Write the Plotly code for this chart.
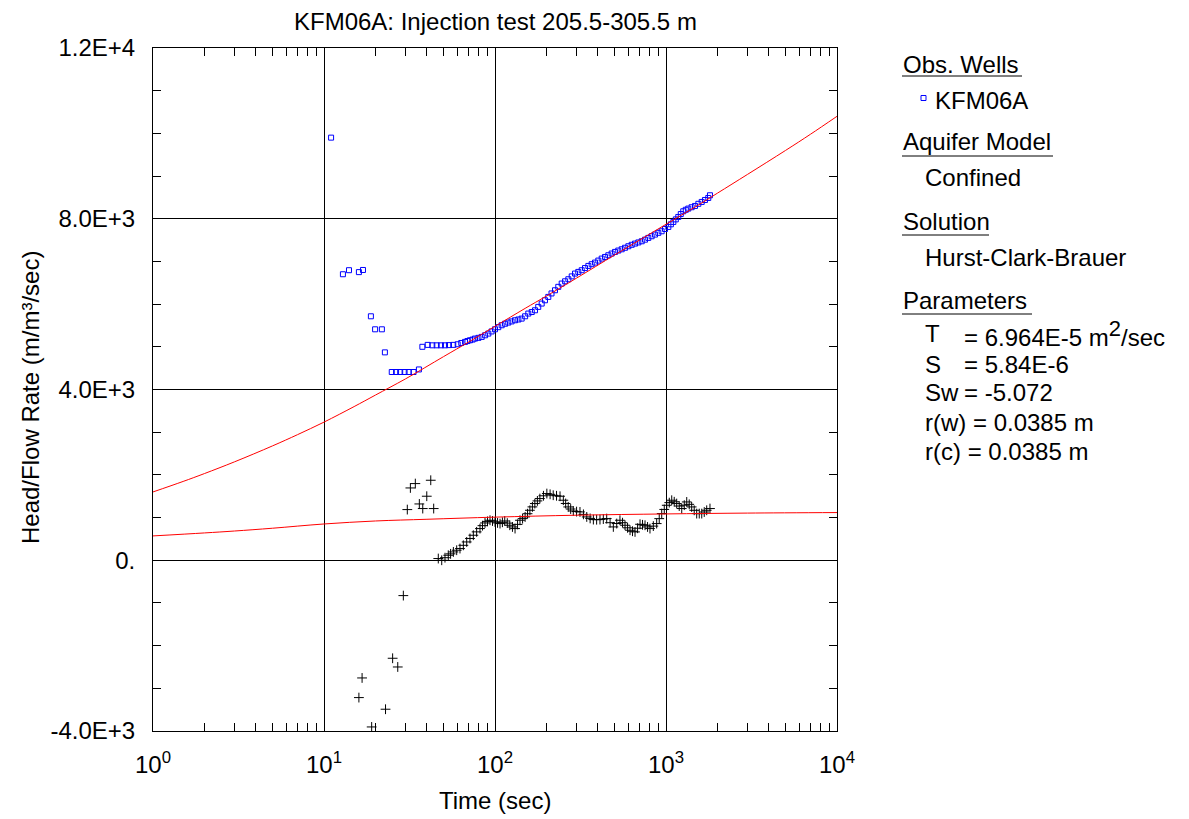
import plotly.graph_objects as go

# Observed head / flow rate (blue squares)
head_t = [11.0, 12.9, 14.0, 16.0, 16.9, 18.8, 19.9, 21.8, 22.7, 24.9, 26.4, 27.9, 29.6, 31.3, 33.4, 35.9,
          37.6, 40.4, 43.0, 45.6, 48.3, 51.0, 53.8, 57.0, 60.5, 63.5, 66.8, 69, 71.4, 74, 76.4, 80, 83.6,
          87.5, 91.4, 95.5, 100, 104.5, 109.4, 114.5, 119.6, 125, 130.9, 137, 143.2, 150, 156.6, 164,
          171.4, 179, 187.5, 196, 205, 214, 224.3, 234.5, 245.5, 257, 268.5, 281, 293.8, 307, 321.4,
          336, 351.5, 367.5, 384.6, 402, 420.7, 440, 460, 481, 503.5, 526, 550.7, 576, 602.5, 630, 659,
          689, 721, 754, 788, 824, 862, 902, 943, 987, 1032, 1068, 1104, 1141, 1180, 1220, 1262, 1305,
          1350, 1412, 1478, 1546, 1617, 1690, 1767, 1808]
head_v = [9900, 6700, 6795, 6750, 6800, 5715, 5410, 5410, 4870, 4410, 4410, 4410, 4410, 4410, 4410, 4470,
          5000, 5045, 5035, 5035, 5035, 5035, 5040, 5045, 5060, 5090, 5115, 5135, 5153, 5170, 5193, 5210, 5232,
          5270, 5310, 5360, 5411, 5460, 5505, 5540, 5568, 5595, 5622, 5640, 5661, 5715, 5779, 5815,
          5856, 5935, 6013, 6090, 6169, 6250, 6325, 6405, 6482, 6535, 6583, 6650, 6716, 6755, 6794,
          6845, 6895, 6935, 6973, 7020, 7067, 7105, 7145, 7185, 7223, 7255, 7285, 7320, 7356, 7390, 7418,
          7445, 7473, 7510, 7551, 7590, 7629, 7670, 7707, 7760, 7808, 7870, 7925, 7985, 8042, 8110, 8175, 8210,
          8238, 8270, 8300, 8350, 8394, 8440, 8487, 8550]

# Derivative (black crosses)
deriv_t = [16.0, 16.7, 19.0, 22.9, 25.2, 27.0, 29.1, 30.7, 32.0, 34.2, 36.1, 37.8, 39.9, 42.1, 43.8,
           46.6, 48.8, 51, 53.3, 55, 57.1, 59.7, 62.4, 65.3, 68.3, 71.4, 74.7, 78.1, 81.7, 84.5, 87.4, 90.4,
           93.5, 96.7, 100, 103.5, 107, 110.5, 114, 118, 122, 126.5, 131, 135.5, 140, 145, 150, 155, 160,
           165.5, 171, 177, 183, 192, 201, 210, 219, 229, 240, 251, 259, 268, 277, 287, 300, 314, 329, 344,
           360, 376, 393, 411, 430, 450, 471, 492, 515, 538, 557, 576, 596, 616, 637, 659, 682, 705, 729,
           754, 780, 806, 843, 882, 913, 944, 977, 1010, 1045, 1080, 1117, 1155, 1195, 1236, 1279, 1322,
           1367, 1413, 1462, 1512, 1565, 1618, 1674, 1730, 1808]
deriv_v = [-3217, -2757, -3905, -3490, -2296, -2500, -828, 1187, 1694, 1796, 1319, 1211, 1500, 1874, 1211,
           40, 0, 60, 117, 150, 195, 235, 274, 350, 429, 510, 586, 665, 742, 810, 874, 910,
           937, 920, 898, 875, 859, 890, 920, 870, 820, 780, 742, 840, 937, 975, 1015, 1090, 1171,
           1250, 1328, 1390, 1445, 1510, 1562, 1545, 1523, 1510, 1499, 1406, 1330, 1249, 1200, 1155, 1140, 1132, 1075, 1015,
           980, 953, 950, 953, 965, 976, 880, 781, 860, 937, 880, 820, 760, 703, 680, 664, 750, 843, 830,
           820, 780, 742, 800, 859, 975, 1093, 1190, 1288, 1350, 1406, 1370, 1328, 1270, 1211, 1290, 1366,
           1310, 1249, 1170, 1093, 1093, 1093, 1130, 1171, 1211]

# Fitted type curve (red)
fit_t = [1, 1.5, 2, 3, 5, 7, 10, 15, 20, 30, 50, 70, 100, 150, 200, 300, 500, 700, 1000, 1500, 2000,
         3000, 5000, 7000, 10000]
fit_v = [1600, 1846, 2031, 2306, 2679, 2942, 3236, 3600, 3870, 4250, 4770, 5110, 5480, 5900, 6190, 6610,
         7150, 7500, 7870, 8290, 8600, 9040, 9600, 9980, 10400]

# Fitted derivative curve (red)
fitd_t = [1, 2, 3, 5, 10, 20, 40, 100, 300, 1000, 3000, 10000]
fitd_v = [570, 640, 685, 750, 850, 920, 960, 1010, 1055, 1085, 1105, 1117]

x_ticks = [1, 10, 100, 1000, 10000]
x_ticktext = ["10<sup>0</sup>", "10<sup>1</sup>", "10<sup>2</sup>", "10<sup>3</sup>", "10<sup>4</sup>"]
y_ticks = [-4000, 0, 4000, 8000, 12000]
y_ticktext = ["-4.0E+3", "0.", "4.0E+3", "8.0E+3", "1.2E+4"]

FONT = "Liberation Sans, Arial, sans-serif"
FS = 24

fig = go.Figure()
fig.add_trace(go.Scatter(x=head_t, y=head_v, mode="markers",
                         marker=dict(symbol="square-open", size=5, color="#0000FF",
                                     line=dict(width=1, color="#0000FF"))))
fig.add_trace(go.Scatter(x=deriv_t, y=deriv_v, mode="markers",
                         marker=dict(symbol="cross-thin", size=7, color="black",
                                     line=dict(width=1, color="black"))))
fig.add_trace(go.Scatter(x=fit_t, y=fit_v, mode="lines", line=dict(color="#FF0000", width=1, shape="spline")))
fig.add_trace(go.Scatter(x=fitd_t, y=fitd_v, mode="lines", line=dict(color="#FF0000", width=1, shape="spline")))

# page body has an 8px margin, so the figure is drawn 8px smaller and offset
OFF = 8
W, H = 1189 - OFF, 819 - OFF
L, R, T, B = 153, 837, 48, 731   # plot area in reference pixels


def px(x):
    return (x - L) / (R - L)


def py(y):
    return (B - y) / (B - T)


fig.update_layout(
    width=W, height=H,
    margin=dict(l=L - OFF, r=1189 - R, t=T - OFF, b=819 - B, autoexpand=False),
    paper_bgcolor="white", plot_bgcolor="white",
    showlegend=False,
    font=dict(family=FONT, size=FS, color="black"),
)
fig.update_xaxes(
    type="log", range=[0, 4], tickmode="array", tickvals=x_ticks, ticktext=x_ticktext,
    showgrid=True, gridcolor="black", gridwidth=1,
    showline=True, linecolor="black", linewidth=1, mirror="allticks",
    ticks="inside", ticklen=8, tickcolor="black", ticklabelstandoff=12,
    minor=dict(tickmode="linear", dtick="D1", ticks="inside", ticklen=8, tickcolor="black", showgrid=False),
    zeroline=False,
    tickfont=dict(family=FONT, size=FS, color="black"),
)
fig.update_yaxes(
    range=[-4000, 12000], tickmode="array", tickvals=y_ticks, ticktext=y_ticktext,
    showgrid=True, gridcolor="black", gridwidth=1,
    showline=True, linecolor="black", linewidth=1, mirror="allticks",
    ticks="inside", ticklen=8, tickcolor="black", ticklabelstandoff=12,
    minor=dict(tickmode="linear", tick0=0, dtick=1000, ticks="inside", ticklen=8, tickcolor="black",
               showgrid=False),
    zeroline=False,
    tickfont=dict(family=FONT, size=FS, color="black"),
)

ann = []
ann.append(dict(text="KFM06A: Injection test 205.5-305.5 m", x=0.5, y=py(22), xanchor="center", yanchor="middle"))
ann.append(dict(text="Time (sec)", x=0.5, y=py(800), xanchor="center", yanchor="middle"))
ann.append(dict(text="Head/Flow Rate (m/m\u00b3/sec)", x=px(30), y=py(398), xanchor="center", yanchor="middle",
                textangle=-90))

legend_items = [
    ("Obs. Wells", 901, 64),
    ("KFM06A", 933, 100),
    ("Aquifer Model", 901, 141),
    ("Confined", 923, 178),
    ("Solution", 901, 221),
    ("Hurst-Clark-Brauer", 923, 257),
    ("Parameters", 901, 300),
    ("T", 923, 334),
    ("S", 923, 364),
    ("Sw", 923, 393),
    ("r(w) = 0.0385 m", 923, 422),
    ("r(c) = 0.0385 m", 923, 451),
    ("= 6.964E-5 m<sup><span style='font-size:22px'>2</span></sup>/sec", 962, 334),
    ("= 5.84E-6", 962, 364),
    ("= -5.072", 962, 393),
]
for text, x, y in legend_items:
    ann.append(dict(text=text, x=px(x), y=py(y), xanchor="left", yanchor="middle"))

for a in ann:
    a.update(xref="paper", yref="paper", showarrow=False, font=dict(family=FONT, size=FS, color="black"))
fig.update_layout(annotations=ann)

shapes = []
for x0, x1, y in [(902, 1022, 76), (902, 1053, 156), (902, 989, 235), (902, 1032, 314)]:
    shapes.append(dict(type="line", xref="paper", yref="paper", x0=px(x0), x1=px(x1), y0=py(y), y1=py(y),
                       line=dict(color="black", width=1)))
shapes.append(dict(type="rect", xref="paper", yref="paper", x0=px(921), x1=px(926), y0=py(95.5), y1=py(100.5),
                   line=dict(color="#0000FF", width=1)))
fig.update_layout(shapes=shapes)

fig.write_html("out.html")
